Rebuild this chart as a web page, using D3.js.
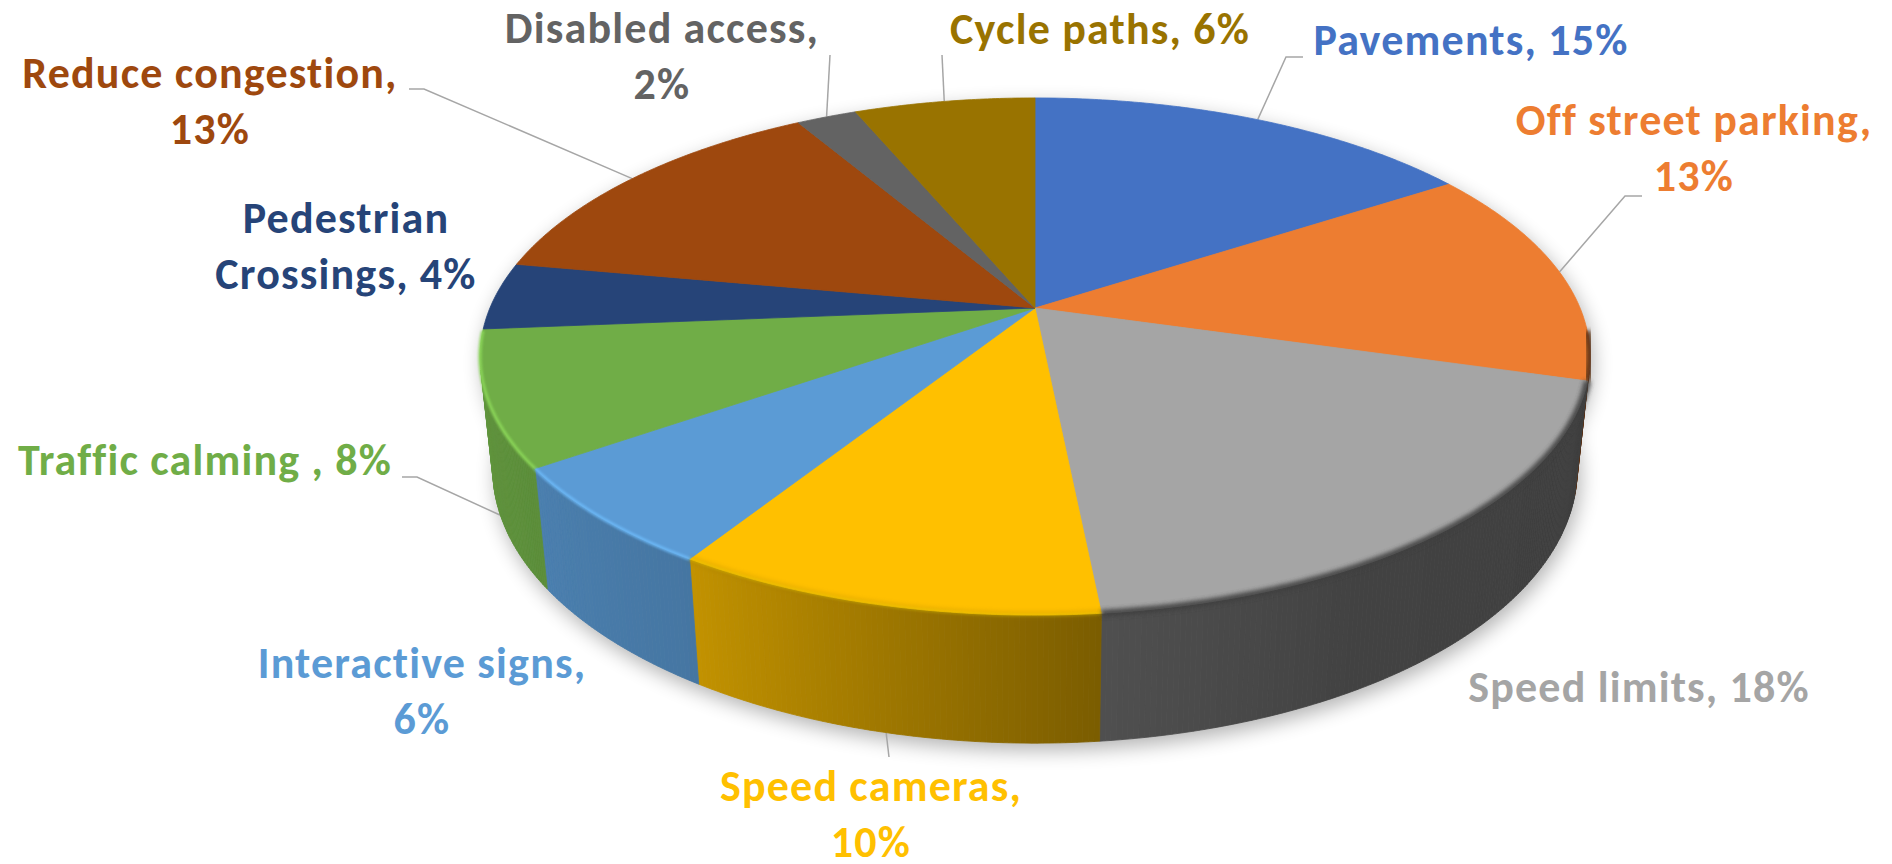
<!DOCTYPE html>
<html>
<head>
<meta charset="utf-8">
<script src="https://d3js.org/d3.v7.min.js"></script>
<title>Road safety measures</title>
<style>
body { margin:0; background:#fff; }
svg { display:block; }
.label { font-family: Carlito, Calibri, Lato, sans-serif; font-weight:700; font-size:44px; letter-spacing:1.2px; }
.leader { fill:none; stroke:#a6a6a6; stroke-width:1.5; }
</style>
</head>
<body>
<svg id="chart"></svg>
<script>
var categories = ["Pavements", "Off street parking", "Speed limits", "Speed cameras", "Interactive signs",
  "Traffic calming ", "Pedestrian Crossings", "Reduce congestion", "Disabled access", "Cycle paths"];
var percents = [15, 13, 18, 10, 6, 8, 4, 13, 2, 6];
var colors = ["#4472C4", "#ED7D31", "#A5A5A5", "#FFC000", "#5B9BD5",
  "#70AD47", "#264478", "#9E480E", "#636363", "#997300"];

// label layout: centre x, first baseline, words on first line, leader elbow points
var labelPos = [
  {x: 1471, y: 55,  words: 9, leader: [[1286, 57], [1303, 57]]},
  {x: 1694, y: 135, words: 3, leader: [[1625, 196], [1642, 196]]},
  {x: 1639, y: 702, words: 9, leader: null},
  {x: 871,  y: 801, words: 2, leader: [[889, 757]]},
  {x: 422,  y: 678, words: 2, leader: null},
  {x: 205,  y: 475, words: 9, leader: [[417, 477], [402, 477]]},
  {x: 346,  y: 233, words: 1, leader: null},
  {x: 210,  y: 88,  words: 2, leader: [[424, 89], [409, 89]]},
  {x: 662,  y: 43,  words: 2, leader: [[830, 55]]},
  {x: 1100, y: 44,  words: 9, leader: [[942, 55]]}
];

var width = 1892, height = 864;
// perspective camera for the 3D disc (radius 1)
var cx = 1035, cy = 308, F = 2582, D = 4.737,
    sinE = 0.4577, cosE = 0.889, depth = 0.235;

var svg = d3.select("#chart").attr("width", width).attr("height", height);
var defs = svg.append("defs");
defs.append("filter").attr("id", "shadow")
    .attr("x", "-20%").attr("y", "-30%").attr("width", "140%").attr("height", "160%")
  .append("feGaussianBlur").attr("stdDeviation", 10);
defs.append("filter").attr("id", "soft")
    .attr("x", "-10%").attr("y", "-10%").attr("width", "120%").attr("height", "120%")
  .append("feGaussianBlur").attr("stdDeviation", 2.2);
defs.append("filter").attr("id", "glow")
    .attr("x", "-10%").attr("y", "-10%").attr("width", "120%").attr("height", "120%")
  .append("feGaussianBlur").attr("stdDeviation", 0.9);

function proj(a, z, r) {
  if (r === undefined) r = 1;
  var X = r * Math.sin(a), Y = r * Math.cos(a);
  var yc = Y * sinE + z * cosE, zc = D + Y * cosE - z * sinE;
  return [cx + F * X / zc, cy - F * yc / zc];
}
function rim(a0, a1, z) {
  var n = Math.max(2, Math.ceil((a1 - a0) / (Math.PI / 360)));
  return d3.range(n + 1).map(function(i) { return proj(a0 + (a1 - a0) * i / n, z); });
}
var line = d3.line();

var pie = d3.pie().sort(null).value(function(d) { return d; });
var arcs = pie(percents);

// side wall is visible where the outer normal faces the camera
var vis0 = Math.acos(-1 / (D * cosE)), vis1 = 2 * Math.PI - vis0;
var light = d3.scaleLinear()
    .domain([100, 150, 174, 212, 235, 260])
    .range([0.38, 0.4, 0.48, 0.76, 0.82, 0.86]).clamp(true);
function shade(c, a) {
  return d3.interpolateRgb("#000", c)(light(a * 180 / Math.PI));
}

// shadow
var shadowPath = line(rim(0, 2 * Math.PI, -depth)) + "Z" + line(rim(0, 2 * Math.PI, 0)) + "Z";
svg.append("path")
    .attr("d", shadowPath)
    .attr("transform", "translate(3,7)")
    .attr("fill", "#000").attr("opacity", 0.3)
    .attr("filter", "url(#shadow)");

// leader lines (under the pie)
var leaders = svg.append("g");
arcs.forEach(function(d, i) {
  var lp = labelPos[i];
  if (!lp.leader) return;
  var mid = (d.startAngle + d.endAngle) / 2;
  var front = mid > vis0 && mid < vis1;
  var p = proj(mid, front ? -depth : 0);
  leaders.append("path").attr("class", "leader")
      .attr("d", line([p].concat(lp.leader)));
});

// walls
var walls = svg.append("g");
arcs.forEach(function(d, i) {
  var a0 = Math.max(d.startAngle, vis0), a1 = Math.min(d.endAngle, vis1);
  if (a1 <= a0) return;
  var n = Math.ceil((a1 - a0) / (Math.PI / 360));
  d3.range(n).forEach(function(k) {
    var t0 = a0 + (a1 - a0) * k / n, t1 = a0 + (a1 - a0) * (k + 1) / n;
    var col = shade(colors[i], (t0 + t1) / 2);
    walls.append("path")
        .attr("d", line([proj(t0, 0), proj(t1, 0), proj(t1, -depth), proj(t0, -depth)]) + "Z")
        .attr("fill", col).attr("stroke", col).attr("stroke-width", 0.8);
  });
});

// top faces
svg.append("g").selectAll("path")
  .data(arcs)
  .join("path")
    .attr("d", function(d) {
      return line([[cx, cy]].concat(rim(d.startAngle, d.endAngle, 0))) + "Z";
    })
    .attr("fill", function(d, i) { return colors[i]; })
    .attr("stroke", function(d, i) { return colors[i]; })
    .attr("stroke-width", 0.8);

// bevel along the front rim
var bevel = svg.append("g");
arcs.forEach(function(d, i) {
  var a0 = Math.max(d.startAngle, vis0 - 0.15), a1 = Math.min(d.endAngle, vis1 + 0.15);
  if (a1 <= a0) return;
  var mid = (a0 + a1) / 2;
  var f = light(mid * 180 / Math.PI);
  bevel.append("path")
      .attr("d", line(rim(a0, a1, 0)))
      .attr("fill", "none")
      .attr("stroke", shade(colors[i], mid))
      .attr("stroke-width", 7)
      .attr("opacity", Math.max(0, Math.min(1, (0.7 - f) * 3)))
      .attr("filter", "url(#soft)");
  bevel.append("path")
      .attr("d", line(rim(a0, a1, 0)))
      .attr("fill", "none")
      .attr("stroke", d3.color(colors[i]).brighter(0.6))
      .attr("stroke-width", 3.5)
      .attr("opacity", Math.max(0, Math.min(1, (f - 0.55) * 3)))
      .attr("filter", "url(#glow)");
});

// labels
var labels = svg.append("g");
arcs.forEach(function(d, i) {
  var lp = labelPos[i];
  var words = (categories[i] + ", " + percents[i] + "%").split(" ");
  var lines = [words.slice(0, lp.words).join(" ")];
  if (words.length > lp.words) lines.push(words.slice(lp.words).join(" "));
  var t = labels.append("text").attr("class", "label")
      .attr("text-anchor", "middle")
      .attr("fill", colors[i]);
  lines.forEach(function(s, k) {
    t.append("tspan").attr("x", lp.x).attr("y", lp.y + k * 56).text(s);
  });
});
</script>
</body>
</html>
